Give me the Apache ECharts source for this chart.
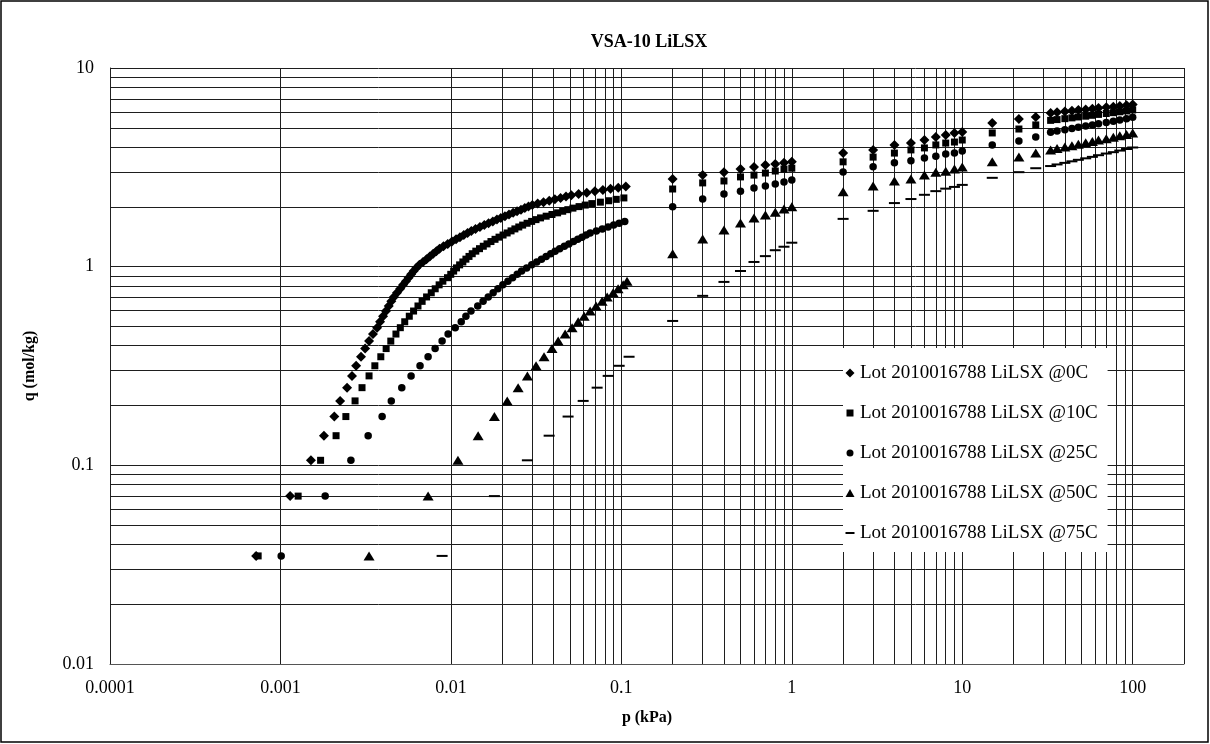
<!DOCTYPE html>
<html><head><meta charset="utf-8">
<script src="https://cdn.jsdelivr.net/npm/echarts@6/dist/echarts.min.js"></script>
<style>html,body{margin:0;padding:0;background:#fff}#c{width:1210px;height:744px}</style>
</head><body><div id="c"></div>
<script>
const FONT = "'Liberation Serif','Times New Roman',serif";
const chartTitle = 'VSA-10 LiLSX';
const xName = 'p (kPa)';
const yName = 'q (mol/kg)';
const seriesNames = ['Lot 2010016788 LiLSX @0C','Lot 2010016788 LiLSX @10C','Lot 2010016788 LiLSX @25C','Lot 2010016788 LiLSX @50C','Lot 2010016788 LiLSX @75C'];
const xTickLabels = ['0.0001','0.001','0.01','0.1','1','10','100'];
const yTickLabels = ['0.01','0.1','1','10'];

// low-pressure dosing points: loading (mol/kg) for each dose
const doseQ = [0.035,0.070,0.106,0.141,0.176,0.211,0.246,0.282,0.317,0.352,
0.387,0.422,0.458,0.493,0.528,0.563,0.598,0.634,0.669,0.704,
0.739,0.774,0.810,0.845,0.880,0.915,0.950,0.986,1.021,1.056,
1.091,1.126,1.162,1.197,1.232,1.267,1.302,1.338,1.373,1.408,
1.443,1.478,1.514,1.549,1.584,1.619,1.654,1.690,1.725,1.760,
1.795,1.830,1.866,1.901,1.936,1.971,2.006,2.042,2.077,2.112,
2.147,2.182,2.218,2.253,2.288,2.323,2.358,2.394,2.429,2.464,
2.499,2.534];
// pressures (kPa) of the dosing points
const p0C = [0.00072,0.00114,0.00151,0.00180,0.00207,0.00224,0.00246,0.00263,0.00278,0.00297,0.00314,0.00331,0.00349,0.00369,
0.00384,0.00400,0.00416,0.00432,0.00447,0.00463,0.00483,0.00504,0.00525,0.00545,0.00565,0.00585,0.00605,0.00626,
0.00653,0.00686,0.00719,0.00752,0.00787,0.00822,0.00857,
0.00905,0.00958,0.01015,0.01072,0.01130,
0.01191,0.01253,0.01318,
0.01394,0.01481,0.01570,0.01663,0.01762,0.01862,0.01963,
0.02075,0.02193,0.02317,0.02445,0.02577,0.02714,0.02854,0.03006,
0.03229,0.03495,0.03776,0.04074,0.04398,0.04734,0.05088,
0.05615,0.06266,0.06995,0.07795,0.08641,0.09594,0.1062];
const p10C = [0.00074,0.00127,0.00172,0.00212,0.00242,0.00274,0.00301,0.00331,0.00358,0.00388,
0.00417,0.00444,0.00476,0.00505,0.00536,0.00570,0.00604,0.00641,0.00678,0.00720,
0.00767,0.00809,0.00853,0.00897,0.00955,0.00998,0.01038,0.01079,0.01125,0.01175,
0.01225,0.01277,0.01334,0.01400,0.01472,0.01549,0.01629,0.01718,0.01815,0.01916,
0.02023,0.02138,0.02254,0.02374,0.02502,0.02636,0.02799,0.02977,0.03157,0.03357,
0.03622,0.03917,0.04227,0.04529,0.04853,0.05200,0.05649,0.06138,0.06714,0.07534,
0.08433,0.09333,0.1035];
const p25C = [0.00101,0.00183,0.00259,0.00327,0.00395,0.00447,0.00515,0.00584,0.00659,0.00735,0.00808,0.00888,0.00963,
0.0106,0.01150,0.01225,0.01312,0.01437,0.01545,0.01656,0.01770,0.01888,0.02018,0.02160,0.02301,0.02449,0.02600,
0.02782,0.02981,0.03189,0.03400,0.03620,0.03854,0.04088,
0.04346,0.04631,0.04924,0.05240,0.05554,0.05879,0.06216,
0.06561,0.07133,0.07729,0.08356,0.09014,0.09712,0.1047];
const p50C = [0.00331,0.00735,0.0110,0.01445,0.0180,0.0214,0.0248,0.0281,0.0316,0.0352,0.0392,0.0426,
0.0468,0.0514,0.0558,0.0605,0.0656,0.0711,0.0771,0.0826,0.0895,0.0957,0.1025,0.108];
const p75C = [0.00888,0.0180,0.0281,0.0377,0.0487,0.0597,0.0721,0.0837,0.0971,0.111];

// high-pressure points
const pHigh = [0.2,0.3,0.4,0.5,0.6,0.7,0.8,0.9,1,2,3,4,5,6,7,8,9,10,15,21.5,27,33,36,40,44,48,53,58,63,70,77,84,92,100];
const q0CHigh = [2.76,2.89,2.99,3.10,3.17,3.25,3.29,3.33,3.37,3.73,3.87,4.10,4.19,4.34,4.50,4.60,4.71,4.76,5.29,5.54,5.67,5.94,5.99,6.04,6.09,6.14,6.19,6.24,6.29,6.34,6.39,6.44,6.50,6.55];
const q10CHigh = [2.46,2.64,2.70,2.83,2.89,2.96,3.03,3.10,3.13,3.37,3.56,3.73,3.87,3.96,4.10,4.19,4.24,4.34,4.71,4.93,5.17,5.45,5.50,5.56,5.61,5.67,5.72,5.78,5.84,5.90,5.96,6.02,6.08,6.15];
const q25CHigh = [2.00,2.19,2.32,2.40,2.49,2.55,2.61,2.67,2.73,3.00,3.18,3.33,3.41,3.52,3.60,3.69,3.73,3.82,4.10,4.29,4.50,4.75,4.82,4.89,4.96,5.03,5.10,5.17,5.24,5.31,5.39,5.47,5.56,5.65];
const q50CHigh = [1.16,1.38,1.53,1.66,1.76,1.82,1.88,1.95,2.00,2.38,2.55,2.70,2.76,2.89,2.99,3.02,3.10,3.17,3.37,3.56,3.73,3.87,3.93,4.00,4.06,4.13,4.20,4.27,4.34,4.41,4.48,4.56,4.63,4.71];
const q75CHigh = [0.533,0.713,0.838,0.951,1.056,1.13,1.21,1.26,1.32,1.74,1.91,2.09,2.19,2.30,2.40,2.47,2.52,2.58,2.80,2.99,3.13,3.21,3.27,3.33,3.39,3.45,3.51,3.57,3.64,3.71,3.77,3.84,3.91,3.98];

const lowP = [p0C, p10C, p25C, p50C, p75C];
const highQ = [q0CHigh, q10CHigh, q25CHigh, q50CHigh, q75CHigh];
const symbols = ['diamond', 'rect', 'circle', 'triangle', 'rect'];
const symbolSizes = [10, 7, 7.5, [11, 9], [11, 2]];
const legendIcons = [
  'path://M0,0M10,10M5,0.5L9.5,5L5,9.5L0.5,5Z',
  'path://M0,0M10,10M1.5,1.5H8.5V8.5H1.5Z',
  'path://M0,0M10,10M1.5,5A3.5,3.5,0,1,1,8.5,5A3.5,3.5,0,1,1,1.5,5Z',
  'path://M0,0M10,10M5,1L9.5,9H0.5Z',
  'path://M0,0M10,10M0.5,4H9.5V6H0.5Z'
];

function build(i) {
  const d = lowP[i].map((p, k) => [p, doseQ[k]]);
  return d.concat(pHigh.map((p, k) => [p, highQ[i][k]]));
}

// minor log grid positions
const xMinor = [], yMinor = [];
for (let e = -4; e <= 1; e++) for (let m = 2; m <= 9; m++) xMinor.push(+(m * Math.pow(10, e)).toPrecision(3));
for (let e = -2; e <= 0; e++) for (let m = 2; m <= 9; m++) yMinor.push(+(m * Math.pow(10, e)).toPrecision(3));

function lab(list) {
  return function (v) {
    const s = list.find(t => Math.abs(Math.log10(+t) - Math.log10(v)) < 1e-6);
    return s || '';
  };
}

const GRID_COLOR = '#1e1e1e';
const series = seriesNames.map((n, i) => ({
  name: n, type: 'scatter', data: build(i), symbol: symbols[i], symbolSize: symbolSizes[i],
  itemStyle: { color: '#000', opacity: 1 }, z: 3, silent: true
}));
series.push({
  type: 'scatter', data: [[1, 1]], symbolSize: 0, silent: true, z: 1,
  markLine: {
    silent: true, symbol: ['none', 'none'], animation: false, z: 1,
    label: { show: false },
    lineStyle: { color: GRID_COLOR, width: 1, type: 'solid' },
    emphasis: { disabled: true },
    data: xMinor.map(v => ({ xAxis: v })).concat(yMinor.map(v => ({ yAxis: v })))
  }
});

const chart = echarts.init(document.getElementById('c'), null, { renderer: 'canvas' });
chart.setOption({
  animation: false,
  backgroundColor: '#fff',
  textStyle: { fontFamily: FONT },
  title: {
    text: chartTitle, left: 644, top: 28, textAlign: 'center',
    textStyle: { fontFamily: FONT, fontSize: 18, fontWeight: 'bold', color: '#000' }
  },
  graphic: [{
    type: 'rect', shape: { x: 1, y: 1, width: 1207, height: 741 },
    style: { fill: 'none', stroke: '#000', lineWidth: 1.5 }, silent: true
  }],
  grid: { left: 110, right: 26, top: 68, bottom: 80, containLabel: false },
  legend: {
    orient: 'vertical', left: 843, top: 348, z: 20,
    padding: [15, 10, 9, 2], itemGap: 20,
    backgroundColor: '#fff', borderWidth: 0,
    itemWidth: 10, itemHeight: 10,
    textStyle: { fontFamily: FONT, fontSize: 19, color: '#000', lineHeight: 20 },
    data: seriesNames.map((n, i) => ({ name: n, icon: legendIcons[i] })),
    selectedMode: false
  },
  xAxis: {
    type: 'log', logBase: 10, min: 0.0001, max: 200,
    name: xName, nameLocation: 'middle', nameGap: 46,
    nameTextStyle: { fontFamily: FONT, fontSize: 16, fontWeight: 'bold', color: '#000' },
    axisLine: { show: true, lineStyle: { color: '#555', width: 1 } },
    axisTick: { show: false },
    axisLabel: { formatter: lab(xTickLabels), fontFamily: FONT, fontSize: 18, color: '#000', margin: 15, showMaxLabel: false },
    splitLine: { show: true, lineStyle: { color: GRID_COLOR, width: 1 } }
  },
  yAxis: {
    type: 'log', logBase: 10, min: 0.01, max: 10,
    name: yName, nameLocation: 'middle', nameGap: 72, nameRotate: 90,
    nameTextStyle: { fontFamily: FONT, fontSize: 16, fontWeight: 'bold', color: '#000' },
    axisLine: { show: true, lineStyle: { color: '#222', width: 1 } },
    axisTick: { show: false },
    axisLabel: { formatter: lab(yTickLabels), fontFamily: FONT, fontSize: 18, color: '#000', margin: 16 },
    splitLine: { show: true, lineStyle: { color: GRID_COLOR, width: 1 } }
  },
  series: series
});
</script>
</body></html>
